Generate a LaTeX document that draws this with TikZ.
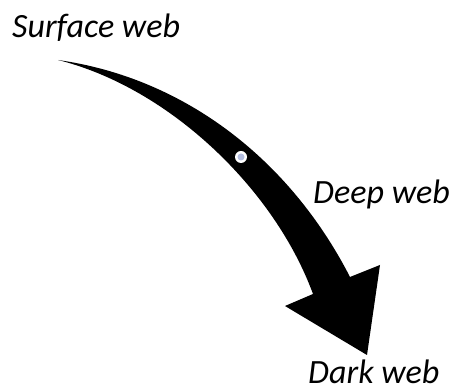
\documentclass[tikz,border=0pt]{standalone}
\usepackage{fontspec}
\setmainfont{Carlito}
\definecolor{handle}{HTML}{B4BEE0}
\begin{document}
\begin{tikzpicture}[x=1pt,y=-1pt,
  lbl/.style={anchor=base west,inner sep=0pt,font=\fontsize{34}{40}\selectfont\itshape}]
\useasboundingbox (0,0) rectangle (453,387);
\node[lbl] (surface) at (12,38) {Surface web};
\node[lbl] (deep) at (313,204) {Deep web};
\node[lbl] (dark) at (308,384) {Dark web};
% curved block arrow
\fill[black] (58,60) .. controls (185,78) and (290,160) .. (350,277)
  -- (380,265) -- (367,355) -- (285,306) -- (313,294)
  .. controls (275,190) and (170,88) .. (58,60) -- cycle;
% adjustment handle
\node[circle,fill=white,minimum size=12pt,inner sep=0pt] (hout) at (241,157) {};
\node[circle,fill=handle,minimum size=7pt,inner sep=0pt] (hin) at (241,157) {};
\end{tikzpicture}
\end{document}
